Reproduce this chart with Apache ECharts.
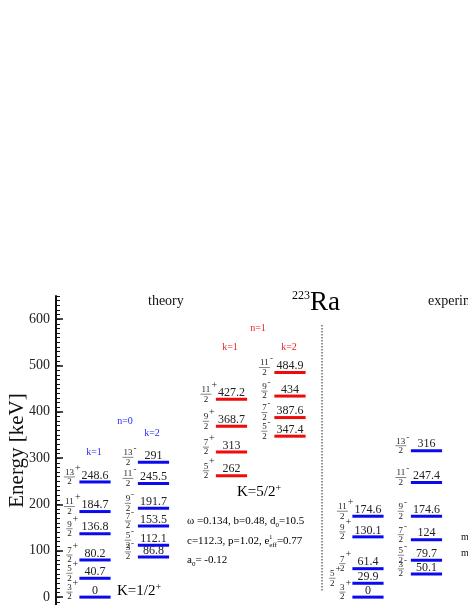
<!DOCTYPE html>
<html><head><meta charset="utf-8">
<script src="https://cdn.jsdelivr.net/npm/echarts@6/dist/echarts.min.js"></script>
<style>html,body{margin:0;padding:0;background:#fff}#c{width:468px;height:605px}</style>
</head><body><div id="c"></div>
<script>
// ---- data (energies in keV, spins as 2J) ----
const thN0K1Energy = [0, 40.7, 80.2, 136.8, 184.7, 248.6];
const thN0K1Spin2  = [3, 5, 7, 9, 11, 13];
const thN0K2Energy = [86.8, 112.1, 153.5, 191.7, 245.5, 291];
const thN0K2Spin2  = [3, 5, 7, 9, 11, 13];
const thN1K1Energy = [262, 313, 368.7, 427.2];
const thN1K1Spin2  = [5, 7, 9, 11];
const thN1K2Energy = [347.4, 387.6, 434, 484.9];
const thN1K2Spin2  = [5, 7, 9, 11];
const expK1Energy  = [0, 29.9, 61.4, 130.1, 174.6];
const expK1Spin2   = [3, 5, 7, 9, 11];
const expK2Energy  = [50.1, 79.7, 124, 174.6, 247.4, 316];
const expK2Spin2   = [3, 5, 7, 9, 11, 13];
const yTickLabels  = [0, 100, 200, 300, 400, 500, 600];

// ---- layout / style ----
const FONT = '"Liberation Serif","Times New Roman",serif';
const BLUE = '#0a0af0', RED = '#f00a0a';
const bands = [
  {E: thN0K1Energy, J: thN0K1Spin2, parity: '+', color: BLUE, slot: 0},
  {E: thN0K2Energy, J: thN0K2Spin2, parity: '-', color: BLUE, slot: 3},
  {E: thN1K1Energy, J: thN1K1Spin2, parity: '+', color: RED,  slot: 7},
  {E: thN1K2Energy, J: thN1K2Spin2, parity: '-', color: RED,  slot: 10},
  {E: expK1Energy,  J: expK1Spin2,  parity: '+', color: BLUE, slot: 14},
  {E: expK2Energy,  J: expK2Spin2,  parity: '-', color: BLUE, slot: 17}
];
const levels = [];
bands.forEach(b => b.E.forEach((e, i) => levels.push({slot: b.slot, e: e, j: b.J[i], parity: b.parity, color: b.color})));
const fracShift = {}; // small manual shift for crowded experimental 5/2+ label
fracShift[levels.findIndex(l => l.slot === 14 && l.j === 5)] = -10;

function renderItem(params, api) {
  const lv = levels[params.dataIndex];
  const p = api.coord([api.value(0), api.value(1)]);
  const hw = api.size([0.8, 0])[0];
  const cx = p[0], cy = p[1];
  const left = cx - hw;
  const fx = left - 10 + (fracShift[params.dataIndex] || 0);
  const num = String(lv.j);
  const nw = num.length > 1 ? 5 : 2.6;
  return {
    type: 'group',
    children: [
      {type: 'rect', shape: {x: left, y: cy - 1.5, width: hw * 2, height: 3}, style: {fill: lv.color}},
      {type: 'text', style: {text: String(lv.e), x: cx, y: cy - 0.5, align: 'center', verticalAlign: 'bottom', font: '12px ' + FONT, fill: '#222'}},
      {type: 'text', style: {text: num, x: fx, y: cy - 5, align: 'center', verticalAlign: 'bottom', font: '9px ' + FONT, fill: '#222'}},
      {type: 'line', shape: {x1: fx - nw - 0.5, y1: cy - 5, x2: fx + nw + 0.5, y2: cy - 5}, style: {stroke: '#333', lineWidth: 0.6}},
      {type: 'text', style: {text: '2', x: fx, y: cy - 4.5, align: 'center', verticalAlign: 'top', font: '9px ' + FONT, fill: '#222'}},
      {type: 'text', style: {text: lv.parity, x: fx + nw + 0.5, y: cy - 9, align: 'left', verticalAlign: 'bottom', font: (lv.parity === '+' ? '10px ' : '9px ') + FONT, fill: '#222'}}
    ]
  };
}

const minorTicks = [];
for (let v = -10; v <= 650; v += 10) minorTicks.push(v);

const chart = echarts.init(document.getElementById('c'));
const txt = (x, y, text, size, color, align) => ({type: 'text', x: x, y: y, style: {text: text, font: size + 'px ' + FONT, fill: color || '#111', align: align || 'left', verticalAlign: 'middle'}});
chart.setOption({
  animation: false,
  grid: {left: 56, right: 0, top: 296, bottom: 0, outerBoundsMode: 'none', containLabel: false},
  xAxis: {type: 'value', min: -2, max: 19.13, show: false},
  yAxis: [{
    type: 'value', min: -17, max: 650,
    name: 'Energy [keV]', nameLocation: 'middle', nameGap: 28, nameRotate: 90, nameMoveOverlap: false,
    nameTextStyle: {fontFamily: FONT, fontSize: 21, color: '#111'},
    axisLine: {show: true, onZero: false, lineStyle: {color: '#111', width: 2}},
    axisTick: {show: true, inside: true, length: 7, customValues: yTickLabels, lineStyle: {color: '#111', width: 1.5}},
    axisLabel: {customValues: yTickLabels, fontFamily: FONT, fontSize: 14, color: '#222', margin: 6},
    splitLine: {show: false}
  }, {
    type: 'value', min: -17, max: 650, position: 'left', offset: 0,
    axisLine: {show: false, onZero: false},
    axisTick: {show: true, inside: true, length: 4, customValues: minorTicks, lineStyle: {color: '#111', width: 1}},
    axisLabel: {show: false}, splitLine: {show: false}
  }],
  series: [{
    type: 'custom', renderItem: renderItem, clip: false,
    data: levels.map(l => [l.slot, l.e])
  }],
  graphic: [
    txt(148, 301, 'theory', 14),
    {type: 'text', x: 292, y: 303, style: {text: '{s|223}{b|Ra}', verticalAlign: 'middle', rich: {s: {fontFamily: FONT, fontSize: 12, verticalAlign: 'top', padding: [0, 0, 8, 0]}, b: {fontFamily: FONT, fontSize: 27}}}},
    txt(428, 301, 'experiment', 14),
    txt(125, 421, 'n=0', 10, '#2a2af5', 'center'),
    txt(94, 452, 'k=1', 10, '#2a2af5', 'center'),
    txt(152, 433, 'k=2', 10, '#2a2af5', 'center'),
    txt(258, 328, 'n=1', 10, '#f02020', 'center'),
    txt(230, 347, 'k=1', 10, '#f02020', 'center'),
    txt(289, 347, 'k=2', 10, '#f02020', 'center'),
    {type: 'text', x: 117, y: 591, style: {text: '{a|K=1/2}{p|+}', verticalAlign: 'middle', rich: {a: {fontFamily: FONT, fontSize: 15}, p: {fontFamily: FONT, fontSize: 10, padding: [0, 0, 8, 0]}}}},
    {type: 'text', x: 237, y: 492, style: {text: '{a|K=5/2}{p|+}', verticalAlign: 'middle', rich: {a: {fontFamily: FONT, fontSize: 15}, p: {fontFamily: FONT, fontSize: 10, padding: [0, 0, 8, 0]}}}},
    {type: 'text', x: 187, y: 521, style: {text: '{t|ω =0.134, b=0.48, d}{sub|0}{t|=10.5}', verticalAlign: 'middle', rich: {t: {fontFamily: FONT, fontSize: 11}, sub: {fontFamily: FONT, fontSize: 7, padding: [9, 0, 0, 0]}}}},
    {type: 'text', x: 187, y: 541, style: {text: '{t|c=112.3, p=1.02, e}{sub|eff}{t|=0.77}', verticalAlign: 'middle', rich: {t: {fontFamily: FONT, fontSize: 11}, sub: {fontFamily: FONT, fontSize: 7, padding: [9, 0, 0, 0]}}}},
    {type: 'text', x: 269, y: 537, style: {text: '1', font: '7px ' + FONT, fill: '#111', verticalAlign: 'middle'}},
    {type: 'text', x: 187, y: 560, style: {text: '{t|a}{sub|0}{t|= -0.12}', verticalAlign: 'middle', rich: {t: {fontFamily: FONT, fontSize: 11}, sub: {fontFamily: FONT, fontSize: 7, padding: [9, 0, 0, 0]}}}},
    txt(461, 537, 'm', 10),
    txt(461, 553, 'm', 10),
    {type: 'line', shape: {x1: 322, y1: 325, x2: 322, y2: 592}, style: {stroke: '#222', lineWidth: 1, lineDash: [1.5, 1.5]}}
  ]
});
</script></body></html>
